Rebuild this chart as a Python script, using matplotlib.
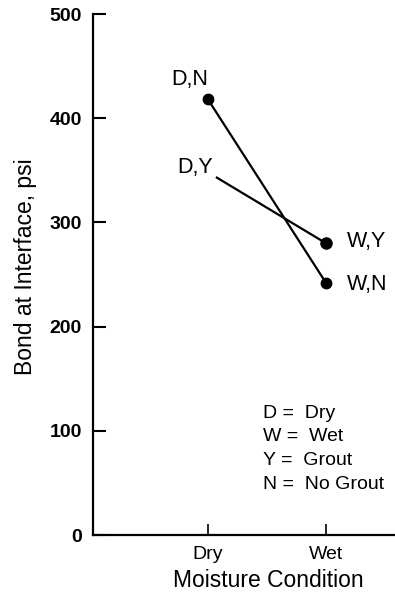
import numpy as np
import matplotlib.pyplot as plt

plt.rcParams['font.family'] = ['Liberation Sans', 'DejaVu Sans']

conditions = ['Dry', 'Wet']
grout_labels = ['D,N', 'D,Y']
wet_labels = ['W,N', 'W,Y']
no_grout = [418, 242]   # N series: dry, wet
grout = [343, 280]      # Y series: dry, wet
y_ticks = [0, 100, 200, 300, 400, 500]
legend_lines = ['D =  Dry', 'W =  Wet', 'Y =  Grout', 'N =  No Grout']

fig = plt.figure(figsize=(3.95, 5.94), dpi=100)
ax = fig.add_axes([0.2354, 0.0993, 0.7646, 0.8771])

x = np.arange(len(conditions))
# no grout line with dots at both ends
ax.plot(x, no_grout, color='black', lw=1.6, marker='o', ms=7.5)
# grout line: starts a little right of Dry, dot only at Wet
ax.plot([x[0] + 0.075, x[1]], grout, color='black', lw=1.6)
ax.plot(x[1], grout[1], 'o', color='black', ms=8)

lab = dict(textcoords='offset points', va='center', fontsize=15.5)
ax.annotate(grout_labels[0], (x[0], no_grout[0]), xytext=(-13.5, 14.5), ha='center', **lab)
ax.annotate(grout_labels[1], (x[0], grout[0]), xytext=(-9.5, 7), ha='center', **lab)
ax.annotate(wet_labels[0], (x[1], no_grout[1]), xytext=(15, -1), ha='left', **lab)
ax.annotate(wet_labels[1], (x[1], grout[1]), xytext=(15, 1), ha='left', **lab)

for i, line in enumerate(legend_lines):
    ax.text(0.563, 0.234 - i * 0.0455, line, transform=ax.transAxes,
            ha='left', va='center', fontsize=14)

ax.set_xlim(-0.975, 1.585)
ax.set_ylim(0, 500)
ax.set_xticks(x)
ax.set_xticklabels(conditions, fontsize=14)
ax.set_yticks(y_ticks)
ax.set_yticklabels([str(v) for v in y_ticks], fontsize=14, fontweight='bold')
ax.tick_params(axis='y', direction='in', length=9, width=1.5, pad=8)
ax.tick_params(axis='x', direction='in', length=8, width=1.2, pad=8)

for s in ['top', 'right']:
    ax.spines[s].set_visible(False)
ax.spines['left'].set_linewidth(1.6)
ax.spines['bottom'].set_linewidth(1.6)

ax.set_xlabel('Moisture Condition', fontsize=16.5)
ax.xaxis.set_label_coords(0.58, -0.065)
ax.set_ylabel('Bond at Interface, psi', fontsize=16.5)
ax.yaxis.set_label_coords(-0.185, 0.515)

fig.savefig('out.png', dpi=100)
